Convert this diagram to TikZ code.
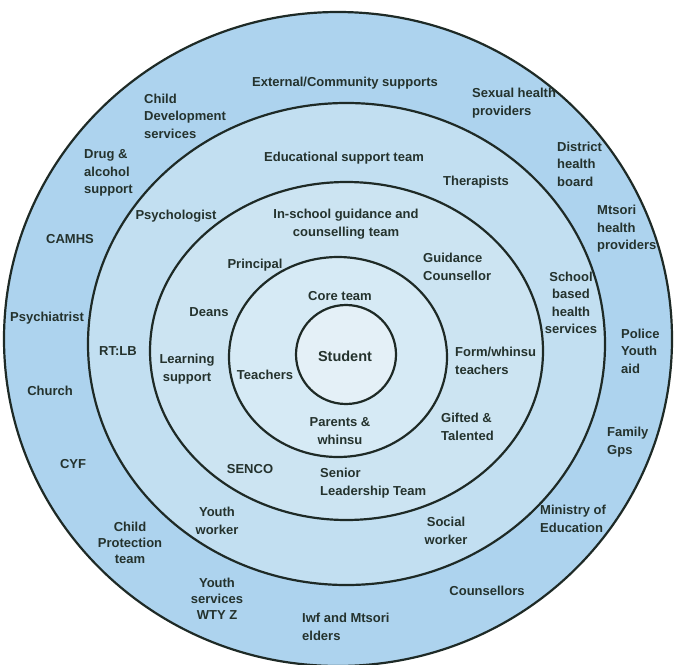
\documentclass[tikz,border=0pt]{standalone}
\usepackage{fontspec}
\setmainfont{Liberation Sans}
\definecolor{ringA}{HTML}{ADD3EE}
\definecolor{ringB}{HTML}{C2DFF1}
\definecolor{ringC}{HTML}{CCE4F2}
\definecolor{ringD}{HTML}{D6EAF5}
\definecolor{ringE}{HTML}{E4F0F7}
\definecolor{linecol}{HTML}{1E2A26}
\definecolor{txt}{HTML}{24322D}
\begin{document}
\begin{tikzpicture}[x=1pt,y=-1pt,
  ring/.style={draw=linecol,line width=2.2pt},
  lbl/.style={font=\fontsize{13}{17.5}\selectfont\bfseries,text=txt,inner sep=0pt},
  tight/.style={font=\fontsize{13}{16}\selectfont\bfseries},
  lft/.style={lbl,align=left,anchor=west},
  ctr/.style={lbl,align=center}]
\fill[white] (0,0) rectangle (674,664);
\useasboundingbox (0,0) rectangle (674,664);
% rings, outer to inner
\filldraw[ring,fill=ringA] (338,339) ellipse [x radius=334pt, y radius=327pt];
\filldraw[ring,fill=ringB] (346.5,344) ellipse [x radius=258.5pt, y radius=241pt];
\filldraw[ring,fill=ringC] (346.5,351) ellipse [x radius=196.5pt, y radius=169pt];
\filldraw[ring,fill=ringD] (338,357) ellipse [x radius=109pt, y radius=100pt];
\filldraw[ring,fill=ringE] (346,354.5) ellipse [x radius=50pt, y radius=49.5pt];
% outer ring labels
\node[ctr] (ext) at (345,83) {External/Community supports};
\node[lft] (cds) at (144,116) {Child\\Development\\services};
\node[lft] (shp) at (472,103) {Sexual health\\providers};
\node[lft] (dhb) at (557,164) {District\\health\\board};
\node[lft] (dra) at (84,173) {Drug \&\\alcohol\\support};
\node[lft] (mhp) at (597,229) {Mtsori\\health\\providers};
\node[ctr] (cam) at (70,239) {CAMHS};
\node[ctr] (psy) at (47,318) {Psychiatrist};
\node[lft] (pol) at (621,351) {Police\\Youth\\aid};
\node[ctr] (chu) at (50,391) {Church};
\node[lft] (fam) at (607,442) {Family\\Gps};
\node[ctr] (cyf) at (73,464) {CYF};
\node[lft] (moe) at (540,519) {Ministry of\\Education};
\node[ctr,tight] (cpt) at (130,543) {Child\\Protection\\team};
\node[ctr,tight] (ysw) at (217,599) {Youth\\services\\WTY Z};
\node[ctr] (cou) at (487,591) {Counsellors};
\node[lft] (iwf) at (302,627) {Iwf and Mtsori\\elders};
% educational support team ring
\node[ctr] (est) at (344,158) {Educational support team};
\node[ctr] (the) at (476,182) {Therapists};
\node[ctr] (pso) at (176,216) {Psychologist};
\node[ctr] (sbh) at (571,303) {School\\based\\health\\services};
\node[ctr] (rtl) at (118,351) {RT:LB};
\node[ctr] (ywk) at (217,521) {Youth\\worker};
\node[ctr] (sow) at (446,531) {Social\\worker};
% guidance ring
\node[ctr] (isg) at (346,224) {In-school guidance and\\counselling team};
\node[ctr] (pri) at (255,265) {Principal};
\node[lft] (gco) at (423,267) {Guidance\\Counsellor};
\node[ctr] (dea) at (209,312) {Deans};
\node[ctr] (lsu) at (187,369) {Learning\\support};
\node[lft] (fwt) at (455,361) {Form/whinsu\\teachers};
\node[lft] (git) at (441,427) {Gifted \&\\Talented};
\node[ctr] (sen) at (250,469) {SENCO};
\node[lft] (slt) at (320,483) {Senior\\Leadership Team};
% core team ring
\node[ctr] (cor) at (340,296) {Core team};
\node[ctr] (tea) at (265,375) {Teachers};
\node[ctr] (par) at (340,431) {Parents \&\\whinsu};
% centre
\node[ctr,font=\fontsize{14.5}{17.5}\selectfont\bfseries] (stu) at (345,356) {Student};
\end{tikzpicture}
\end{document}
